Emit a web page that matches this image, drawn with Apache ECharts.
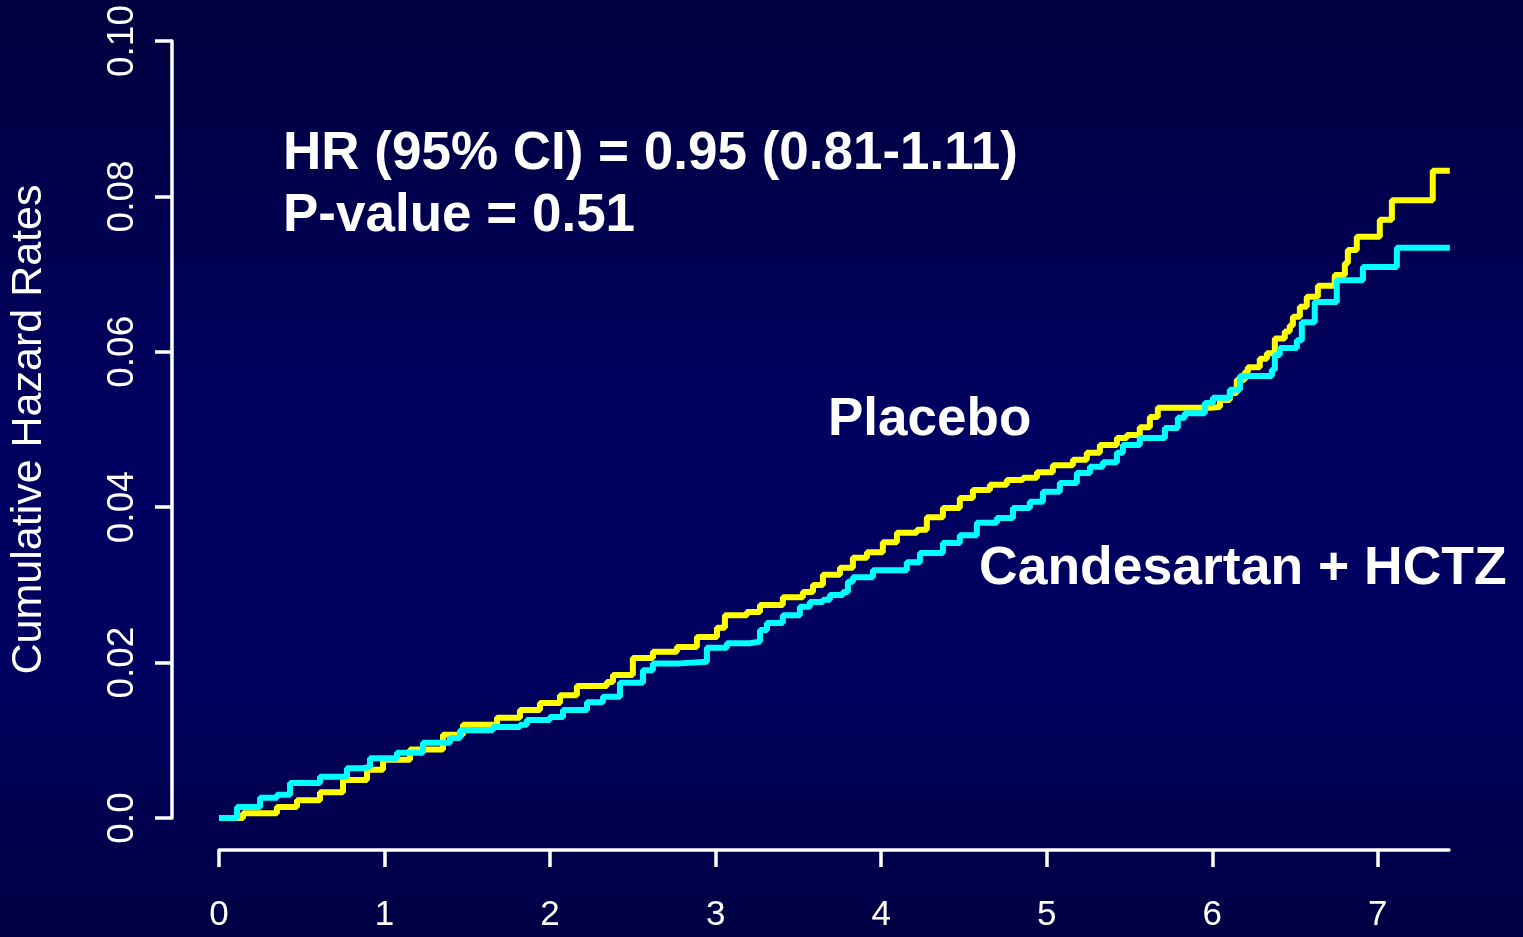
<!DOCTYPE html>
<html>
<head>
<meta charset="utf-8">
<script src="https://cdn.jsdelivr.net/npm/echarts@6/dist/echarts.min.js"></script>
<style>
html,body{margin:0;padding:0;width:1523px;height:937px;overflow:hidden;}
#chart{width:1523px;height:937px;}
</style>
</head>
<body>
<div id="chart"></div>
<script>
// Placebo (yellow) cumulative hazard: step times (years) and values
var placeboTime = [0, 0.145, 0.350, 0.471, 0.610, 0.749, 0.894, 0.991, 1.154, 1.353, 1.474, 1.679, 1.818, 1.939,
  2.060, 2.162, 2.343, 2.380, 2.500, 2.621, 2.766, 2.887, 3.008, 3.056, 3.189, 3.268, 3.406, 3.527, 3.588, 3.648,
  3.751, 3.829, 3.914, 4.010, 4.095, 4.216, 4.276, 4.373, 4.475, 4.554, 4.657, 4.759, 4.856, 4.941, 5.037, 5.158,
  5.242, 5.321, 5.424, 5.484, 5.562, 5.623, 5.671, 5.985, 6.046, 6.106, 6.148, 6.197, 6.215, 6.287, 6.330, 6.378,
  6.438, 6.468, 6.487, 6.529, 6.571, 6.638, 6.740, 6.801, 6.819, 6.873, 7.012, 7.085, 7.332, 7.435];
var placeboHazard = [0, 0.0006, 0.0014, 0.0023, 0.0033, 0.0049, 0.0062, 0.0075, 0.0088, 0.0107, 0.0120, 0.0129, 0.0139, 0.0148,
  0.0158, 0.0170, 0.0175, 0.0184, 0.0206, 0.0214, 0.0220, 0.0233, 0.0245, 0.0261, 0.0265, 0.0274, 0.0284, 0.0291, 0.0300, 0.0313,
  0.0322, 0.0335, 0.0342, 0.0355, 0.0367, 0.0371, 0.0387, 0.0399, 0.0412, 0.0422, 0.0429, 0.0435, 0.0438, 0.0445, 0.0454, 0.0461,
  0.0470, 0.0480, 0.0489, 0.0493, 0.0503, 0.0516, 0.0528, 0.0529, 0.0538, 0.0547, 0.0564, 0.0574, 0.0580, 0.0591, 0.0598, 0.0617,
  0.0626, 0.0634, 0.0645, 0.0658, 0.0671, 0.0685, 0.0699, 0.0714, 0.0731, 0.0748, 0.0770, 0.0795, 0.0833, 0.0833];

// Candesartan + HCTZ (cyan)
var candTime = [0, 0.109, 0.248, 0.350, 0.429, 0.610, 0.773, 0.870, 0.912, 1.075, 1.232, 1.395, 1.456, 1.655, 1.818, 1.860,
  1.999, 2.078, 2.223, 2.319, 2.422, 2.561, 2.621, 2.784, 2.947, 3.068, 3.207, 3.268, 3.310, 3.406, 3.509, 3.569, 3.648,
  3.690, 3.769, 3.799, 3.829, 3.950, 4.155, 4.234, 4.373, 4.475, 4.578, 4.699, 4.796, 4.898, 4.977, 5.079, 5.182, 5.261,
  5.339, 5.424, 5.460, 5.562, 5.714, 5.792, 5.834, 5.955, 6.004, 6.106, 6.167, 6.360, 6.378, 6.408, 6.511, 6.541, 6.619,
  6.752, 6.910, 7.115, 7.435];
var candHazard = [0, 0.0014, 0.0026, 0.0030, 0.0045, 0.0053, 0.0064, 0.0066, 0.0077, 0.0084, 0.0097, 0.0103, 0.0113, 0.0117, 0.0120, 0.0126,
  0.0130, 0.0139, 0.0149, 0.0156, 0.0174, 0.0190, 0.0199, 0.0201, 0.0219, 0.0225, 0.0227, 0.0242, 0.0251, 0.0261, 0.0272, 0.0278, 0.0281,
  0.0287, 0.0291, 0.0304, 0.0310, 0.0319, 0.0329, 0.0341, 0.0354, 0.0364, 0.0380, 0.0386, 0.0399, 0.0407, 0.0420, 0.0431, 0.0444, 0.0452,
  0.0458, 0.0470, 0.0480, 0.0489, 0.0502, 0.0515, 0.0521, 0.0534, 0.0541, 0.0551, 0.0569, 0.0577, 0.0596, 0.0605, 0.0615, 0.0638, 0.0664,
  0.0692, 0.0709, 0.0734, 0.0734];

var yTickLabels = ['0.0', '0.02', '0.04', '0.06', '0.08', '0.10'];
var xTickLabels = ['0', '1', '2', '3', '4', '5', '6', '7'];
var yAxisTitle = 'Cumulative Hazard Rates';
var annotationLines = ['HR (95% CI) = 0.95 (0.81-1.11)', 'P-value = 0.51'];
var seriesNames = ['Placebo', 'Candesartan + HCTZ'];

function zip(a, b) { return a.map(function (v, i) { return [v, b[i]]; }); }

var FONT = '"Liberation Sans", Arial, Helvetica, sans-serif';
var chart = echarts.init(document.getElementById('chart'), null, { renderer: 'canvas' });

chart.setOption({
  animation: false,
  backgroundColor: {
    type: 'linear', x: 0, y: 0, x2: 0, y2: 1,
    colorStops: [
      { offset: 0, color: '#00003e' },
      { offset: 0.45, color: '#000060' },
      { offset: 0.7, color: '#000060' },
      { offset: 1, color: '#000044' }
    ]
  },
  grid: { left: 219, right: 74, top: 41, bottom: 119, containLabel: false, outerBoundsMode: 'none' },
  xAxis: {
    type: 'value', min: 0, max: 7.43, interval: 1,
    offset: 32,
    axisLine: { show: true, onZero: false, lineStyle: { color: '#ffffff', width: 3.5 } },
    axisTick: { show: true, length: 17, lineStyle: { color: '#ffffff', width: 3.5 } },
    axisLabel: {
      color: '#ffffff', fontSize: 35, fontFamily: FONT, margin: 48,
      showMaxLabel: false,
      formatter: function (v) { var i = Math.round(v); return xTickLabels[i] !== undefined ? xTickLabels[i] : ''; }
    },
    splitLine: { show: false }
  },
  yAxis: {
    type: 'value', min: 0, max: 0.1, interval: 0.02,
    offset: 47,
    name: yAxisTitle, nameLocation: 'middle', nameGap: 121, nameRotate: 90,
    nameTextStyle: { color: '#ffffff', fontSize: 43, fontFamily: FONT },
    axisLine: { show: true, onZero: false, lineStyle: { color: '#ffffff', width: 3.5 } },
    axisTick: { show: true, length: 17, lineStyle: { color: '#ffffff', width: 3.5 } },
    axisLabel: {
      color: '#ffffff', fontSize: 37, fontFamily: FONT, margin: 31, rotate: 90,
      formatter: function (v) { return yTickLabels[Math.round(v / 0.02)]; }
    },
    splitLine: { show: false }
  },
  series: [
    {
      name: seriesNames[0], type: 'line', step: 'end', showSymbol: false, clip: false,
      data: zip(placeboTime, placeboHazard),
      lineStyle: { color: '#ffff00', width: 6 }, z: 2
    },
    {
      name: seriesNames[1], type: 'line', step: 'end', showSymbol: false, clip: false,
      data: zip(candTime, candHazard),
      lineStyle: { color: '#00ffff', width: 6 }, z: 3
    }
  ],
  graphic: [
    { type: 'text', left: 283, top: 128, style: { text: annotationLines[0], fill: '#ffffff', font: 'bold 53px ' + FONT } },
    { type: 'text', left: 283, top: 190, style: { text: annotationLines[1], fill: '#ffffff', font: 'bold 53px ' + FONT } },
    { type: 'text', left: 828, top: 394, style: { text: seriesNames[0], fill: '#ffffff', font: 'bold 53px ' + FONT } },
    { type: 'text', left: 979, top: 542, style: { text: seriesNames[1], fill: '#ffffff', font: 'bold 53.5px ' + FONT } }
  ]
});
</script>
</body>
</html>
